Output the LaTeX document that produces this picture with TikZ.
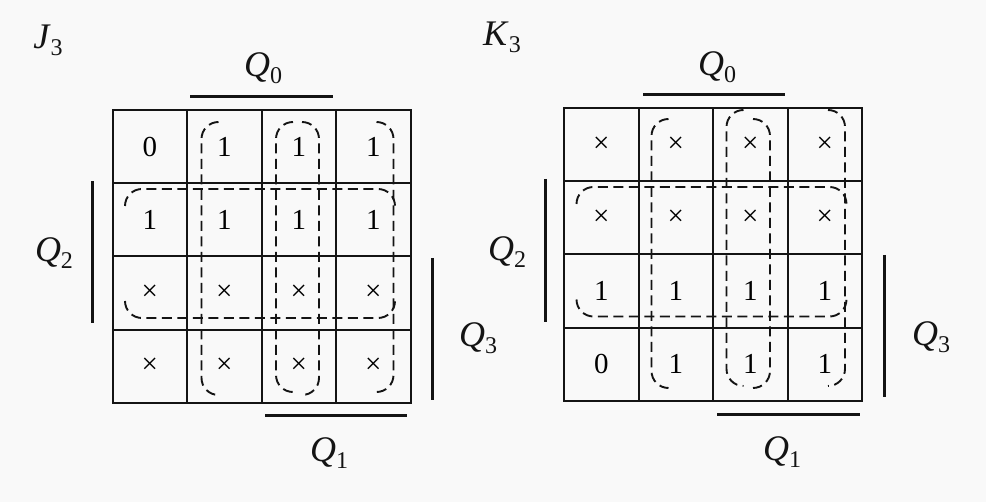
\documentclass[tikz,border=0pt]{standalone}
\usepackage{fontspec}
\setmainfont{Liberation Serif}
\usepackage{xcolor}
\usepackage{tikz}
\usetikzlibrary{positioning, calc}
\definecolor{mapink}{HTML}{141414}
\definecolor{mappaper}{HTML}{F9F9F9}
\newcommand{\qvar}[2]{\textit{#1}\raisebox{-0.2em}{\fontsize{24}{24}\selectfont #2}}

\begin{document}
\begin{tikzpicture}[x=1pt, y=-1pt,
  cell/.style={draw=mapink, line width=2pt, minimum width=74.5pt,
    minimum height=73.2pt, inner sep=0pt, anchor=north west,
    font=\fontsize{29}{29}\selectfont},
  bar/.style={draw=mapink, line width=3pt},
  ring/.style={draw=mapink, line width=1.9pt, dash pattern=on 10pt off 5.5pt,
    rounded corners=17pt},
  tag/.style={inner sep=0pt, text=mapink, font=\fontsize{36}{36}\selectfont}]
  \fill[mappaper] (0,0) rectangle (986,502);
  \useasboundingbox (0,0) rectangle (986,502);

  % J3 map
  \foreach \v [count=\i from 0] in {0,1,1,1, 1,1,1,1, ×,×,×,×, ×,×,×,×} {
    \pgfmathtruncatemacro{\r}{div(\i,4)}
    \pgfmathtruncatemacro{\c}{mod(\i,4)}
    \node[cell] (j\r\c) at (111.5+74.5*\c, 109+73.2*\r) {\v};
  }
  \node[tag] (jname) at (48,40) {\qvar{J}{3}};
  \node[tag] (jq0) at (263,68) {\qvar{Q}{0}};
  \node[tag] (jq1) at (329,453) {\qvar{Q}{1}};
  \node[tag] (jq2) at (54,253) {\qvar{Q}{2}};
  \node[tag] (jq3) at (478,338) {\qvar{Q}{3}};
  \draw[bar] (190,97) -- (333,97);
  \draw[bar] (265,416) -- (407,416);
  \draw[bar] (92.7,181.5) -- (92.7,323);
  \draw[bar] (432,258) -- (432,400);
  % groups
  \draw[ring] (218.5,122) -- (201.5,122) -- (201.5,395) -- (218.5,395);
  \draw[ring] (302,122) -- (319,122) -- (319,395) -- (302,395);
  \draw[ring] (293,122) -- (276,122) -- (276,392) -- (293,392);
  \draw[ring] (376.5,122) -- (393.5,122) -- (393.5,392) -- (376.5,392);
  \draw[ring] (125,206) -- (125,189) -- (395,189) -- (395,206);
  \draw[ring] (125,301) -- (125,318) -- (395,318) -- (395,301);

  % K3 map
  \foreach \v [count=\i from 0] in {×,×,×,×, ×,×,×,×, 1,1,1,1, 0,1,1,1} {
    \pgfmathtruncatemacro{\r}{div(\i,4)}
    \pgfmathtruncatemacro{\c}{mod(\i,4)}
    \node[cell] (k\r\c) at (563+74.5*\c, 107+73.2*\r) {\v};
  }
  \node[tag] (kname) at (502,37) {\qvar{K}{3}};
  \node[tag] (kq0) at (717,67) {\qvar{Q}{0}};
  \node[tag] (kq1) at (782,452) {\qvar{Q}{1}};
  \node[tag] (kq2) at (507,252) {\qvar{Q}{2}};
  \node[tag] (kq3) at (931,337) {\qvar{Q}{3}};
  \draw[bar] (643,95) -- (785,95);
  \draw[bar] (717,415) -- (860,415);
  \draw[bar] (545.7,179) -- (545.7,322);
  \draw[bar] (884,255) -- (884,397);
  % groups
  \draw[ring] (668.5,119) -- (651.5,119) -- (651.5,388) -- (668.5,388);
  \draw[ring] (753,119) -- (770,119) -- (770,388) -- (753,388);
  \draw[ring] (743.5,110) -- (726.5,110) -- (726.5,386) -- (743.5,386);
  \draw[ring] (828,110) -- (845,110) -- (845,386) -- (828,386);
  \draw[ring] (576.5,204) -- (576.5,187) -- (846.5,187) -- (846.5,204);
  \draw[ring] (576.5,299.5) -- (576.5,316.5) -- (846.5,316.5) -- (846.5,299.5);
\end{tikzpicture}
\end{document}
